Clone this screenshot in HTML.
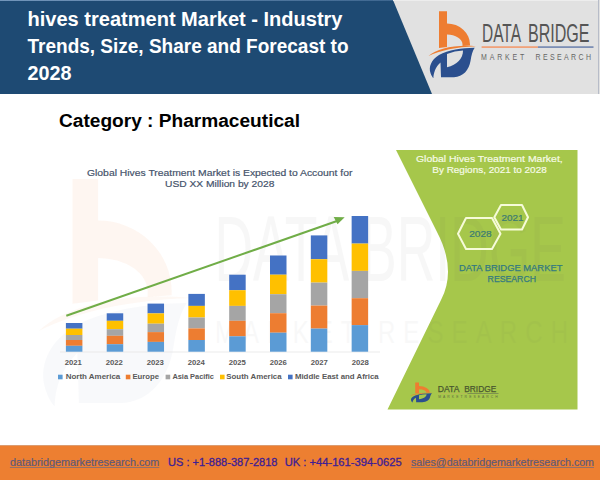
<!DOCTYPE html>
<html><head><meta charset="utf-8">
<style>
html,body{margin:0;padding:0;background:#fff;}
body{width:600px;height:480px;overflow:hidden;position:relative;font-family:"Liberation Sans",sans-serif;}
svg{position:absolute;left:0;top:0;display:block;}
</style></head>
<body>
<svg width="600" height="480" viewBox="0 0 600 480" font-family="Liberation Sans, sans-serif">
<!-- header -->
<rect x="0" y="0" width="600" height="94" fill="#E1E1E1"/>
<polygon points="0,0 393,0 432,94 0,94" fill="#1E4A73"/>
<defs><linearGradient id="tg" x1="0" x2="1" y1="0" y2="0"><stop offset="0" stop-color="#7396BB"/><stop offset="1" stop-color="#3E6790"/></linearGradient></defs><rect x="0" y="0" width="393" height="1" fill="url(#tg)"/><rect x="393" y="0" width="205" height="1" fill="#EDEDED"/>
<g fill="#fff" font-weight="bold" font-size="20">
<text x="27.5" y="26.3" textLength="315" lengthAdjust="spacingAndGlyphs">hives treatment Market - Industry</text>
<text x="27.5" y="52.8" textLength="321" lengthAdjust="spacingAndGlyphs">Trends, Size, Share and Forecast to</text>
<text x="27.5" y="80" textLength="44" lengthAdjust="spacingAndGlyphs">2028</text>
</g>
<!-- big logo -->
<g id="logo">
<path id="lo1" d="M439,11.3 L447,11.3 L447,23.5 A23,21 0 0 1 470,44.5 L470,45.5 L462.5,46 L462.5,44.5 A15.5,10 0 0 0 447,34.5 L447,47 L439,48 Z" fill="#EE7D31"/>
<path id="lo2" d="M428.5,56 C437,48.5 455,44.5 476,46.3 C456,47 440,50.5 428.5,56 Z" fill="#EE7D31"/>
<path id="lb" d="M474.7,47.8 C462,48 448,50 439,55 C431,60 428.5,67 430.5,73 C431.3,75.5 432.3,77 433.4,78.2 C433.5,73 435.5,67 440.5,62.5 L441,77.2 L454,77.2 C463,77 469,70 470.5,61 C471.5,55 472.5,51 474.7,47.8 Z" fill="#2B4F8E"/>
</g>
<path d="M447,54 C452,52 457.5,50.8 463,50.5 C463,58.5 457,65 447,67.2 Z" fill="#E1E1E1"/>
<g fill="#555" font-size="20" transform="translate(0,41.8) scale(1,1.3)">
<text x="482" y="0" textLength="39" lengthAdjust="spacingAndGlyphs">DATA</text>
<text x="528" y="0" textLength="61.6" lengthAdjust="spacingAndGlyphs">BRIDGE</text>
</g>
<rect x="481.6" y="46.2" width="56.3" height="1.8" fill="#F0A27A"/>
<rect x="537.9" y="46.2" width="55.6" height="1.8" fill="#7D8FB5"/>
<g fill="#666" font-size="7" transform="translate(0,60.4) scale(1,1.33)">
<text x="481" y="0" textLength="43.4" lengthAdjust="spacing">MARKET</text>
<text x="535.6" y="0" textLength="55.4" lengthAdjust="spacing">RESEARCH</text>
</g>
<rect x="598" y="0" width="1" height="94" fill="#B7BCC8"/>

<!-- category -->
<text x="59" y="127" font-size="18" font-weight="bold" fill="#000" textLength="241" lengthAdjust="spacingAndGlyphs">Category : Pharmaceutical</text>

<!-- green panel -->
<path d="M396,150 L437,232 Q456.8,269.7 441,300 L387.5,409.5 L577.5,409.5 L577.5,150 Z" fill="#A6C74B"/>
<!-- watermark -->
<g transform="matrix(3.2,0,0,3.4,-1332.3,140.6)">
<use href="#lo1" opacity="0.065"/>
<use href="#lo2" opacity="0.05"/>
<use href="#lb" opacity="0.035"/>
</g>
<g opacity="0.045" fill="#555">
<text x="214.5" y="0" font-size="60" transform="translate(0,281) scale(1,1.53)" textLength="351.5" lengthAdjust="spacingAndGlyphs">DATA BRIDGE</text>
<text x="215" y="0" font-size="24" transform="translate(0,342.5) scale(1,1.3)" textLength="353" lengthAdjust="spacing" opacity="0.8">MARKET  RESEARCH</text>
</g>
<g fill="#F6FBE6" font-size="9.9" stroke="#F6FBE6" stroke-width="0.2">
<text x="416" y="161.7" textLength="146.7" lengthAdjust="spacingAndGlyphs">Global Hives Treatment Market,</text>
<text x="432.3" y="173.3" textLength="114.4" lengthAdjust="spacingAndGlyphs">By Regions, 2021 to 2028</text>
</g>
<g fill="none" stroke="#F6FBD8" stroke-width="2" stroke-linejoin="round">
<polygon points="458,233.7 466,218 492,218 500.5,233.7 492,249 466,249"/>
<polygon points="494.3,217.2 501,205 522,205 528,217.2 522,229.5 501,229.5"/>
</g>
<g fill="#3C7C72" font-size="8.5" stroke="#3C7C72" stroke-width="0.2">
<text x="469.2" y="237" textLength="22.5" lengthAdjust="spacingAndGlyphs">2028</text>
<text x="501.5" y="220.5" textLength="22" lengthAdjust="spacingAndGlyphs">2021</text>
</g>
<g fill="#347A80" font-size="9" stroke="#347A80" stroke-width="0.25">
<text x="459" y="271" textLength="103.4" lengthAdjust="spacingAndGlyphs">DATA BRIDGE MARKET</text>
<text x="487.6" y="282" textLength="48.4" lengthAdjust="spacingAndGlyphs">RESEARCH</text>
</g>
<g transform="translate(410.3,382.3) scale(0.47,0.30) translate(-428.5,-11)">
<use href="#logo"/>
<path d="M447,54 C452,52 457.5,50.8 463,50.5 C463,58.5 457,65 447,67.2 Z" fill="#A6C74B"/>
</g>
<g font-size="8.8" fill="#4A5830" stroke="#4A5830" stroke-width="0.25">
<text x="437.8" y="391.7" textLength="21.6" lengthAdjust="spacingAndGlyphs">DATA</text>
<text x="464.3" y="391.7" textLength="31.9" lengthAdjust="spacingAndGlyphs">BRIDGE</text>
</g>
<rect x="438" y="393.2" width="29.5" height="0.7" fill="#B9B85A"/><rect x="467.5" y="393.2" width="31" height="0.7" fill="#6D7C52"/>
<text x="438.3" y="398" font-size="3.4" fill="#5E6C40" textLength="59.5" lengthAdjust="spacing">M A R K E T   R E S E A R C H</text>

<!-- chart -->
<g fill="#44526A" font-size="9.3" stroke="#44526A" stroke-width="0.18">
<text x="87" y="175.5" textLength="265.4" lengthAdjust="spacingAndGlyphs">Global Hives Treatment Market is Expected to Account for</text>
<text x="165" y="187" textLength="109.4" lengthAdjust="spacingAndGlyphs">USD XX Million by 2028</text>
</g>
<line x1="60" y1="352" x2="380" y2="352" stroke="#E6E6E6" stroke-width="0.8"/>
<g id="bars">
<rect x="65.90" y="323.00" width="16.5" height="5.70" fill="#4472C4"/>
<rect x="65.90" y="328.70" width="16.5" height="6.30" fill="#FFC000"/>
<rect x="65.90" y="335.00" width="16.5" height="5.00" fill="#A5A5A5"/>
<rect x="65.90" y="340.00" width="16.5" height="5.80" fill="#ED7D31"/>
<rect x="65.90" y="345.80" width="16.5" height="5.90" fill="#5B9BD5"/>
<rect x="106.72" y="313.30" width="16.5" height="7.50" fill="#4472C4"/>
<rect x="106.72" y="320.80" width="16.5" height="8.40" fill="#FFC000"/>
<rect x="106.72" y="329.20" width="16.5" height="6.60" fill="#A5A5A5"/>
<rect x="106.72" y="335.80" width="16.5" height="8.40" fill="#ED7D31"/>
<rect x="106.72" y="344.20" width="16.5" height="7.50" fill="#5B9BD5"/>
<rect x="147.54" y="303.60" width="16.5" height="9.80" fill="#4472C4"/>
<rect x="147.54" y="313.40" width="16.5" height="10.30" fill="#FFC000"/>
<rect x="147.54" y="323.70" width="16.5" height="8.40" fill="#A5A5A5"/>
<rect x="147.54" y="332.10" width="16.5" height="9.80" fill="#ED7D31"/>
<rect x="147.54" y="341.90" width="16.5" height="9.80" fill="#5B9BD5"/>
<rect x="188.36" y="293.90" width="16.5" height="12.00" fill="#4472C4"/>
<rect x="188.36" y="305.90" width="16.5" height="11.60" fill="#FFC000"/>
<rect x="188.36" y="317.50" width="16.5" height="10.90" fill="#A5A5A5"/>
<rect x="188.36" y="328.40" width="16.5" height="11.60" fill="#ED7D31"/>
<rect x="188.36" y="340.00" width="16.5" height="11.70" fill="#5B9BD5"/>
<rect x="229.18" y="274.70" width="16.5" height="15.50" fill="#4472C4"/>
<rect x="229.18" y="290.20" width="16.5" height="15.70" fill="#FFC000"/>
<rect x="229.18" y="305.90" width="16.5" height="14.90" fill="#A5A5A5"/>
<rect x="229.18" y="320.80" width="16.5" height="15.50" fill="#ED7D31"/>
<rect x="229.18" y="336.30" width="16.5" height="15.40" fill="#5B9BD5"/>
<rect x="270.00" y="255.50" width="16.5" height="19.20" fill="#4472C4"/>
<rect x="270.00" y="274.70" width="16.5" height="19.50" fill="#FFC000"/>
<rect x="270.00" y="294.20" width="16.5" height="19.00" fill="#A5A5A5"/>
<rect x="270.00" y="313.20" width="16.5" height="19.50" fill="#ED7D31"/>
<rect x="270.00" y="332.70" width="16.5" height="19.00" fill="#5B9BD5"/>
<rect x="310.82" y="235.40" width="16.5" height="23.80" fill="#4472C4"/>
<rect x="310.82" y="259.20" width="16.5" height="23.40" fill="#FFC000"/>
<rect x="310.82" y="282.60" width="16.5" height="23.00" fill="#A5A5A5"/>
<rect x="310.82" y="305.60" width="16.5" height="23.00" fill="#ED7D31"/>
<rect x="310.82" y="328.60" width="16.5" height="23.10" fill="#5B9BD5"/>
<rect x="351.64" y="216.00" width="16.5" height="27.60" fill="#4472C4"/>
<rect x="351.64" y="243.60" width="16.5" height="27.30" fill="#FFC000"/>
<rect x="351.64" y="270.90" width="16.5" height="27.30" fill="#A5A5A5"/>
<rect x="351.64" y="298.20" width="16.5" height="26.90" fill="#ED7D31"/>
<rect x="351.64" y="325.10" width="16.5" height="26.60" fill="#5B9BD5"/>
</g>
<line x1="66.3" y1="315.8" x2="337" y2="221" stroke="#70AD47" stroke-width="2"/>
<polygon points="344.7,217.3 333.7,217 337.5,224.3" fill="#70AD47"/>
<g fill="#595959" font-size="8" font-weight="bold">
<text x="64.7" y="364.6" textLength="17.2" lengthAdjust="spacingAndGlyphs">2021</text>
<text x="105.7" y="364.6" textLength="17.2" lengthAdjust="spacingAndGlyphs">2022</text>
<text x="146.7" y="364.6" textLength="17.2" lengthAdjust="spacingAndGlyphs">2023</text>
<text x="187.7" y="364.6" textLength="17.2" lengthAdjust="spacingAndGlyphs">2024</text>
<text x="228.7" y="364.6" textLength="17.2" lengthAdjust="spacingAndGlyphs">2025</text>
<text x="269.7" y="364.6" textLength="17.2" lengthAdjust="spacingAndGlyphs">2026</text>
<text x="310.7" y="364.6" textLength="17.2" lengthAdjust="spacingAndGlyphs">2027</text>
<text x="351.7" y="364.6" textLength="17.2" lengthAdjust="spacingAndGlyphs">2028</text>
</g>
<g font-size="7.5" font-weight="bold" fill="#595959">
<rect x="58" y="374.7" width="4.6" height="4.6" fill="#5B9BD5"/>
<text x="65.7" y="379.2" textLength="54.6" lengthAdjust="spacingAndGlyphs">North America</text>
<rect x="125.8" y="374.7" width="4.6" height="4.6" fill="#ED7D31"/>
<text x="132.4" y="379.2" textLength="26.6" lengthAdjust="spacingAndGlyphs">Europe</text>
<rect x="165.6" y="374.7" width="4.6" height="4.6" fill="#A5A5A5"/>
<text x="172.4" y="379.2" textLength="41.6" lengthAdjust="spacingAndGlyphs">Asia Pacific</text>
<rect x="220" y="374.7" width="4.6" height="4.6" fill="#FFC000"/>
<text x="226.3" y="379.2" textLength="55.3" lengthAdjust="spacingAndGlyphs">South America</text>
<rect x="288" y="374.7" width="4.6" height="4.6" fill="#4472C4"/>
<text x="294.9" y="379.2" textLength="83.8" lengthAdjust="spacingAndGlyphs">Middle East and Africa</text>
</g>

<!-- footer -->
<rect x="0" y="445" width="600" height="35" fill="#ED7F31"/><rect x="0" y="445" width="600" height="1" fill="#DC9C70"/>
<g font-size="10.9">
<text x="9.9" y="466" fill="#5E5A7A" stroke="#5E5A7A" stroke-width="0.2" textLength="149.4" lengthAdjust="spacingAndGlyphs">databridgemarketresearch.com</text>
<rect x="9.9" y="467" width="149.4" height="0.7" fill="#6E6A85"/>
<text x="168.1" y="466" fill="#3E1E94" stroke="#3E1E94" stroke-width="0.3" textLength="109.4" lengthAdjust="spacingAndGlyphs">US : +1-888-387-2818</text>
<text x="284.7" y="466" fill="#3E1E94" stroke="#3E1E94" stroke-width="0.3" textLength="117" lengthAdjust="spacingAndGlyphs">UK : +44-161-394-0625</text>
<text x="411" y="466" fill="#5E5A7A" stroke="#5E5A7A" stroke-width="0.2" textLength="183" lengthAdjust="spacingAndGlyphs">sales@databridgemarketresearch.com</text>
<rect x="411" y="467" width="183" height="0.7" fill="#6E6A85"/>
</g>
</svg>
</body></html>
